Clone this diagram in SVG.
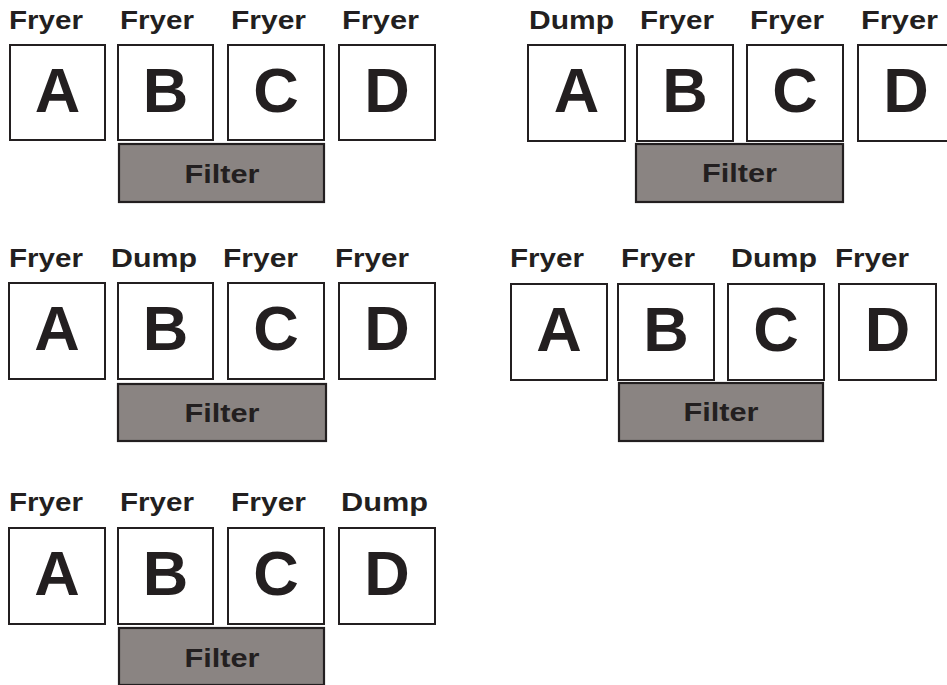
<svg xmlns="http://www.w3.org/2000/svg" width="947" height="685" viewBox="0 0 947 685">
<style>
.box{fill:#fff;stroke:#231f20;stroke-width:2}
.flt{fill:#8a8482;stroke:#231f20;stroke-width:2.2}
.lbl{font-family:"Liberation Sans",Arial,sans-serif;font-weight:bold;font-size:25px;fill:#231f20}
.big{font-family:"Liberation Sans",Arial,sans-serif;font-weight:bold;font-size:63px;fill:#231f20;text-anchor:middle}
.ft{font-family:"Liberation Sans",Arial,sans-serif;font-weight:bold;font-size:26px;fill:#231f20;text-anchor:middle}
</style>
<rect width="947" height="685" fill="#fff"/>

<g id="panel1">
  <g id="p1-labels">
    <text class="lbl" x="9" y="29" textLength="74" lengthAdjust="spacingAndGlyphs">Fryer</text>
    <text class="lbl" x="120" y="29" textLength="74" lengthAdjust="spacingAndGlyphs">Fryer</text>
    <text class="lbl" x="231" y="29" textLength="75" lengthAdjust="spacingAndGlyphs">Fryer</text>
    <text class="lbl" x="342" y="29" textLength="77" lengthAdjust="spacingAndGlyphs">Fryer</text>
  </g>
  <g id="p1-A"><rect class="box" x="10" y="45" width="95" height="95"/><text class="big" x="57.5" y="112">A</text></g>
  <g id="p1-B"><rect class="box" x="118" y="45" width="95" height="95"/><text class="big" x="165.5" y="112">B</text></g>
  <g id="p1-C"><rect class="box" x="228" y="45" width="96" height="95"/><text class="big" x="276" y="112">C</text></g>
  <g id="p1-D"><rect class="box" x="339" y="45" width="96" height="95"/><text class="big" x="387" y="112">D</text></g>
  <g id="p1-filter"><rect class="flt" x="119" y="144" width="205" height="58"/><text class="ft" x="222" y="183" textLength="75" lengthAdjust="spacingAndGlyphs">Filter</text></g>
</g>

<g id="panel2">
  <g id="p2-labels">
    <text class="lbl" x="529" y="29" textLength="85" lengthAdjust="spacingAndGlyphs">Dump</text>
    <text class="lbl" x="640" y="29" textLength="74" lengthAdjust="spacingAndGlyphs">Fryer</text>
    <text class="lbl" x="750" y="29" textLength="74" lengthAdjust="spacingAndGlyphs">Fryer</text>
    <text class="lbl" x="861" y="29" textLength="77" lengthAdjust="spacingAndGlyphs">Fryer</text>
  </g>
  <g id="p2-A"><rect class="box" x="528" y="45" width="97" height="96"/><text class="big" x="576.5" y="112">A</text></g>
  <g id="p2-B"><rect class="box" x="637" y="45" width="96" height="96"/><text class="big" x="685" y="112">B</text></g>
  <g id="p2-C"><rect class="box" x="747" y="45" width="96" height="96"/><text class="big" x="795" y="112">C</text></g>
  <g id="p2-D"><rect class="box" x="858" y="45" width="96" height="96"/><text class="big" x="906" y="112">D</text></g>
  <g id="p2-filter"><rect class="flt" x="636" y="144" width="207" height="58"/><text class="ft" x="739.5" y="182" textLength="75" lengthAdjust="spacingAndGlyphs">Filter</text></g>
</g>

<g id="panel3">
  <g id="p3-labels">
    <text class="lbl" x="9" y="267" textLength="74" lengthAdjust="spacingAndGlyphs">Fryer</text>
    <text class="lbl" x="111" y="267" textLength="86" lengthAdjust="spacingAndGlyphs">Dump</text>
    <text class="lbl" x="223" y="267" textLength="75" lengthAdjust="spacingAndGlyphs">Fryer</text>
    <text class="lbl" x="335" y="267" textLength="74" lengthAdjust="spacingAndGlyphs">Fryer</text>
  </g>
  <g id="p3-A"><rect class="box" x="9" y="283" width="96" height="96"/><text class="big" x="57" y="350">A</text></g>
  <g id="p3-B"><rect class="box" x="118" y="283" width="95" height="96"/><text class="big" x="165.5" y="350">B</text></g>
  <g id="p3-C"><rect class="box" x="228" y="283" width="96" height="96"/><text class="big" x="276" y="350">C</text></g>
  <g id="p3-D"><rect class="box" x="339" y="283" width="96" height="96"/><text class="big" x="387" y="350">D</text></g>
  <g id="p3-filter"><rect class="flt" x="118" y="384" width="208" height="57"/><text class="ft" x="222" y="422" textLength="75" lengthAdjust="spacingAndGlyphs">Filter</text></g>
</g>

<g id="panel4">
  <g id="p4-labels">
    <text class="lbl" x="510" y="267" textLength="74" lengthAdjust="spacingAndGlyphs">Fryer</text>
    <text class="lbl" x="621" y="267" textLength="74" lengthAdjust="spacingAndGlyphs">Fryer</text>
    <text class="lbl" x="731" y="267" textLength="86" lengthAdjust="spacingAndGlyphs">Dump</text>
    <text class="lbl" x="835" y="267" textLength="74" lengthAdjust="spacingAndGlyphs">Fryer</text>
  </g>
  <g id="p4-A"><rect class="box" x="511" y="284" width="96" height="96"/><text class="big" x="559" y="351">A</text></g>
  <g id="p4-B"><rect class="box" x="618" y="284" width="96" height="96"/><text class="big" x="666" y="351">B</text></g>
  <g id="p4-C"><rect class="box" x="728" y="284" width="96" height="96"/><text class="big" x="776" y="351">C</text></g>
  <g id="p4-D"><rect class="box" x="839" y="284" width="97" height="96"/><text class="big" x="887.5" y="351">D</text></g>
  <g id="p4-filter"><rect class="flt" x="619" y="383" width="204" height="58"/><text class="ft" x="721" y="421" textLength="75" lengthAdjust="spacingAndGlyphs">Filter</text></g>
</g>

<g id="panel5">
  <g id="p5-labels">
    <text class="lbl" x="9" y="511" textLength="74" lengthAdjust="spacingAndGlyphs">Fryer</text>
    <text class="lbl" x="120" y="511" textLength="74" lengthAdjust="spacingAndGlyphs">Fryer</text>
    <text class="lbl" x="231" y="511" textLength="75" lengthAdjust="spacingAndGlyphs">Fryer</text>
    <text class="lbl" x="341" y="511" textLength="87" lengthAdjust="spacingAndGlyphs">Dump</text>
  </g>
  <g id="p5-A"><rect class="box" x="9" y="528" width="96" height="96"/><text class="big" x="57" y="595">A</text></g>
  <g id="p5-B"><rect class="box" x="118" y="528" width="95" height="96"/><text class="big" x="165.5" y="595">B</text></g>
  <g id="p5-C"><rect class="box" x="228" y="528" width="96" height="96"/><text class="big" x="276" y="595">C</text></g>
  <g id="p5-D"><rect class="box" x="339" y="528" width="96" height="96"/><text class="big" x="387" y="595">D</text></g>
  <g id="p5-filter"><rect class="flt" x="119" y="628" width="205" height="57"/><text class="ft" x="222" y="667" textLength="75" lengthAdjust="spacingAndGlyphs">Filter</text></g>
</g>

<g id="connectors"></g>
</svg>
